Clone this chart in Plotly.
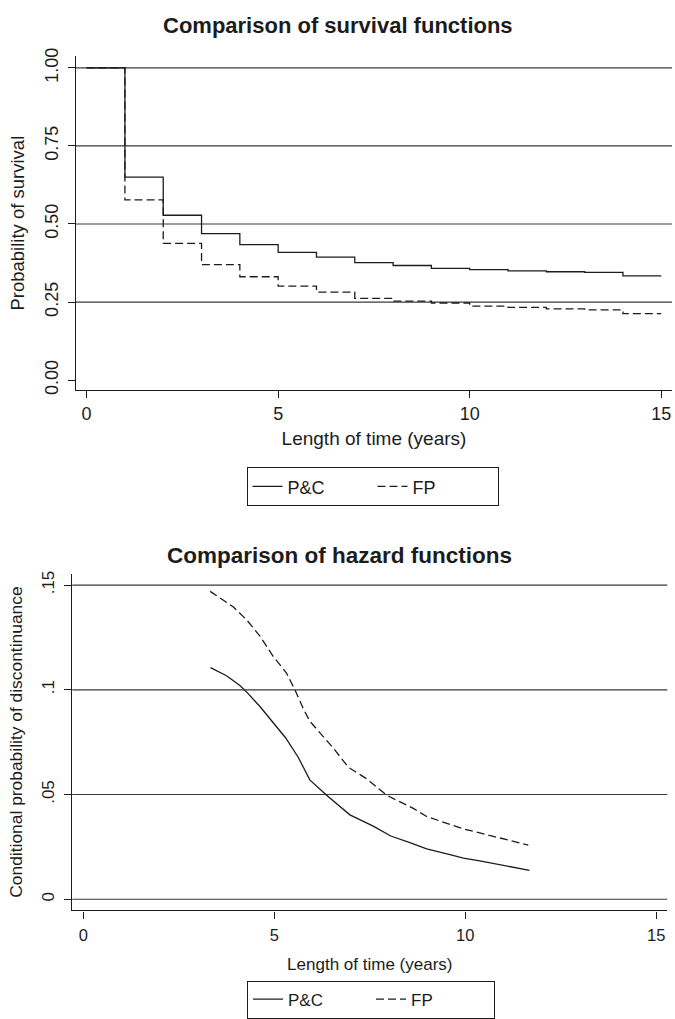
import plotly.graph_objects as go

# ---------------- data ----------------
surv_time = [0, 1, 2, 3, 4, 5, 6, 7, 8, 9, 10, 11, 12, 13, 14, 15]
surv_pc = [1.0, 0.650, 0.528, 0.469, 0.434, 0.409, 0.394, 0.376, 0.367, 0.358, 0.354, 0.350, 0.347, 0.345, 0.334, 0.334]
surv_fp = [1.0, 0.577, 0.438, 0.370, 0.331, 0.301, 0.282, 0.262, 0.253, 0.247, 0.237, 0.233, 0.228, 0.225, 0.213, 0.213]

haz_pc_t = [3.33, 3.75, 4.10, 4.28, 4.63, 4.97, 5.30, 5.63, 5.93, 6.37, 6.98, 7.59, 8.05, 8.55, 8.99, 9.60, 9.95, 10.38, 11.08, 11.68]
haz_pc = [0.1106, 0.1067, 0.1020, 0.0989, 0.0919, 0.0841, 0.0770, 0.0677, 0.0570, 0.0497, 0.0403, 0.0349, 0.0302, 0.0270, 0.0240, 0.0213, 0.0196, 0.0183, 0.0157, 0.0138]
haz_fp_t = [3.32, 3.93, 4.28, 4.63, 4.97, 5.32, 5.54, 5.76, 5.93, 6.20, 6.54, 6.94, 7.42, 7.94, 8.64, 8.99, 9.51, 9.95, 10.38, 11.08, 11.65]
haz_fp = [0.1470, 0.1395, 0.1333, 0.1255, 0.1160, 0.1080, 0.1000, 0.0910, 0.0850, 0.0794, 0.0723, 0.0630, 0.0575, 0.0497, 0.0434, 0.0395, 0.0364, 0.0336, 0.0317, 0.0283, 0.0258]

x_ticks = [0, 5, 10, 15]
surv_yticks = [0.0, 0.25, 0.5, 0.75, 1.0]
surv_ylabels = ["0.00", "0.25", "0.50", "0.75", "1.00"]
haz_yticks = [0.0, 0.05, 0.10, 0.15]
haz_ylabels = ["0", ".05", ".1", ".15"]

series_names = ["P&C", "FP"]

# ---------------- styling ----------------
FONT = "Liberation Sans, Arial, Helvetica, sans-serif"
INK = "#1c1c1c"
GRID = "#3a3a3a"
W, H = 675, 1019

# pixel geometry of the two plot areas (left, right, top, bottom)
TOP = (76, 672, 49, 389.5)
BOT = (72.3, 667.3, 576.5, 919.5)

fig = go.Figure()

fig.add_trace(go.Scatter(x=surv_time, y=surv_pc, mode="lines", line_shape="hv",
                         name=series_names[0], line=dict(color=INK, width=1.3),
                         xaxis="x", yaxis="y", legend="legend"))
fig.add_trace(go.Scatter(x=surv_time, y=surv_fp, mode="lines", line_shape="hv",
                         name=series_names[1], line=dict(color=INK, width=1.3, dash="8px,4px"),
                         xaxis="x", yaxis="y", legend="legend"))
fig.add_trace(go.Scatter(x=haz_pc_t, y=haz_pc, mode="lines",
                         name=series_names[0], line=dict(color=INK, width=1.3),
                         xaxis="x2", yaxis="y2", legend="legend2"))
fig.add_trace(go.Scatter(x=haz_fp_t, y=haz_fp, mode="lines",
                         name=series_names[1], line=dict(color=INK, width=1.3, dash="8px,4px"),
                         xaxis="x2", yaxis="y2", legend="legend2"))

shapes = []
for v in surv_yticks:
    if v > 0:
        shapes.append(dict(type="line", xref="x domain", yref="y", x0=0, x1=1, y0=v, y1=v,
                           line=dict(color=GRID, width=1.2), layer="below"))
for v in haz_yticks:
    shapes.append(dict(type="line", xref="x2 domain", yref="y2", x0=0, x1=1, y0=v, y1=v,
                       line=dict(color=GRID, width=1.2), layer="below"))

axis_common = dict(showline=True, linecolor=INK, linewidth=1.3, ticks="outside",
                   tickcolor=INK, tickwidth=1.2, showgrid=False, zeroline=False,
                   mirror=False, fixedrange=True)

fig.update_layout(
    width=W, height=H,
    margin=dict(l=0, r=0, t=0, b=0),
    paper_bgcolor="white", plot_bgcolor="white",
    font=dict(family=FONT, color=INK),
    showlegend=True,
    shapes=shapes,
    xaxis=dict(domain=[TOP[0] / W, TOP[1] / W], anchor="y", range=[-0.277, 15.28],
               tickvals=x_ticks, ticktext=[str(t) for t in x_ticks], ticklen=7,
               tickfont=dict(size=18),
               title=dict(text="Length of time (years)", font=dict(size=19), standoff=8),
               **axis_common),
    yaxis=dict(domain=[(H - TOP[3]) / H, (H - TOP[2]) / H], anchor="x", range=[-0.0324, 1.0377],
               tickvals=surv_yticks, ticktext=surv_ylabels, tickangle=-90, ticklen=7,
               tickfont=dict(size=18), ticklabelstandoff=3,
               title=dict(text="Probability of survival", font=dict(size=18.5), standoff=12),
               **axis_common),
    xaxis2=dict(domain=[BOT[0] / W, BOT[1] / W], anchor="y2", range=[-0.288, 15.29],
                tickvals=x_ticks, ticktext=[str(t) for t in x_ticks], ticklen=7,
                tickfont=dict(size=16.5), ticklabelstandoff=3,
                title=dict(text="Length of time (years)", font=dict(size=17), standoff=14),
                **axis_common),
    yaxis2=dict(domain=[(H - BOT[3]) / H, (H - BOT[2]) / H], anchor="x2", range=[-0.0053, 0.1554],
                tickvals=haz_yticks, ticktext=haz_ylabels, tickangle=-90, ticklen=7,
                tickfont=dict(size=17), ticklabelstandoff=3,
                title=dict(text="Conditional probability of discontinuance", font=dict(size=17.4), standoff=12),
                **axis_common),
    legend=dict(orientation="h", x=372.5 / W, xanchor="center", y=(H - 468) / H, yanchor="top",
                bordercolor=INK, borderwidth=1, bgcolor="white",
                font=dict(size=18), itemwidth=30, entrywidth=80, entrywidthmode="pixels",
                tracegroupgap=0),
    legend2=dict(orientation="h", x=371 / W, xanchor="center", y=(H - 991) / H, yanchor="top",
                 bordercolor=INK, borderwidth=1, bgcolor="white",
                 font=dict(size=17), itemwidth=30, entrywidth=78, entrywidthmode="pixels",
                 tracegroupgap=0),
    annotations=[
        dict(text="<b>Comparison of survival functions</b>", xref="paper", yref="paper",
             x=338 / W, y=(H - 18) / H, xanchor="center", yanchor="middle",
             showarrow=False, font=dict(size=22, color=INK)),
        dict(text="<b>Comparison of hazard functions</b>", xref="paper", yref="paper",
             x=340 / W, y=(H - 558) / H, xanchor="center", yanchor="middle",
             showarrow=False, font=dict(size=22.5, color=INK)),
    ],
)

fig.write_html("out.html", config={"displayModeBar": False},
               post_script="document.body.style.margin='0';document.body.style.overflow='hidden';")
